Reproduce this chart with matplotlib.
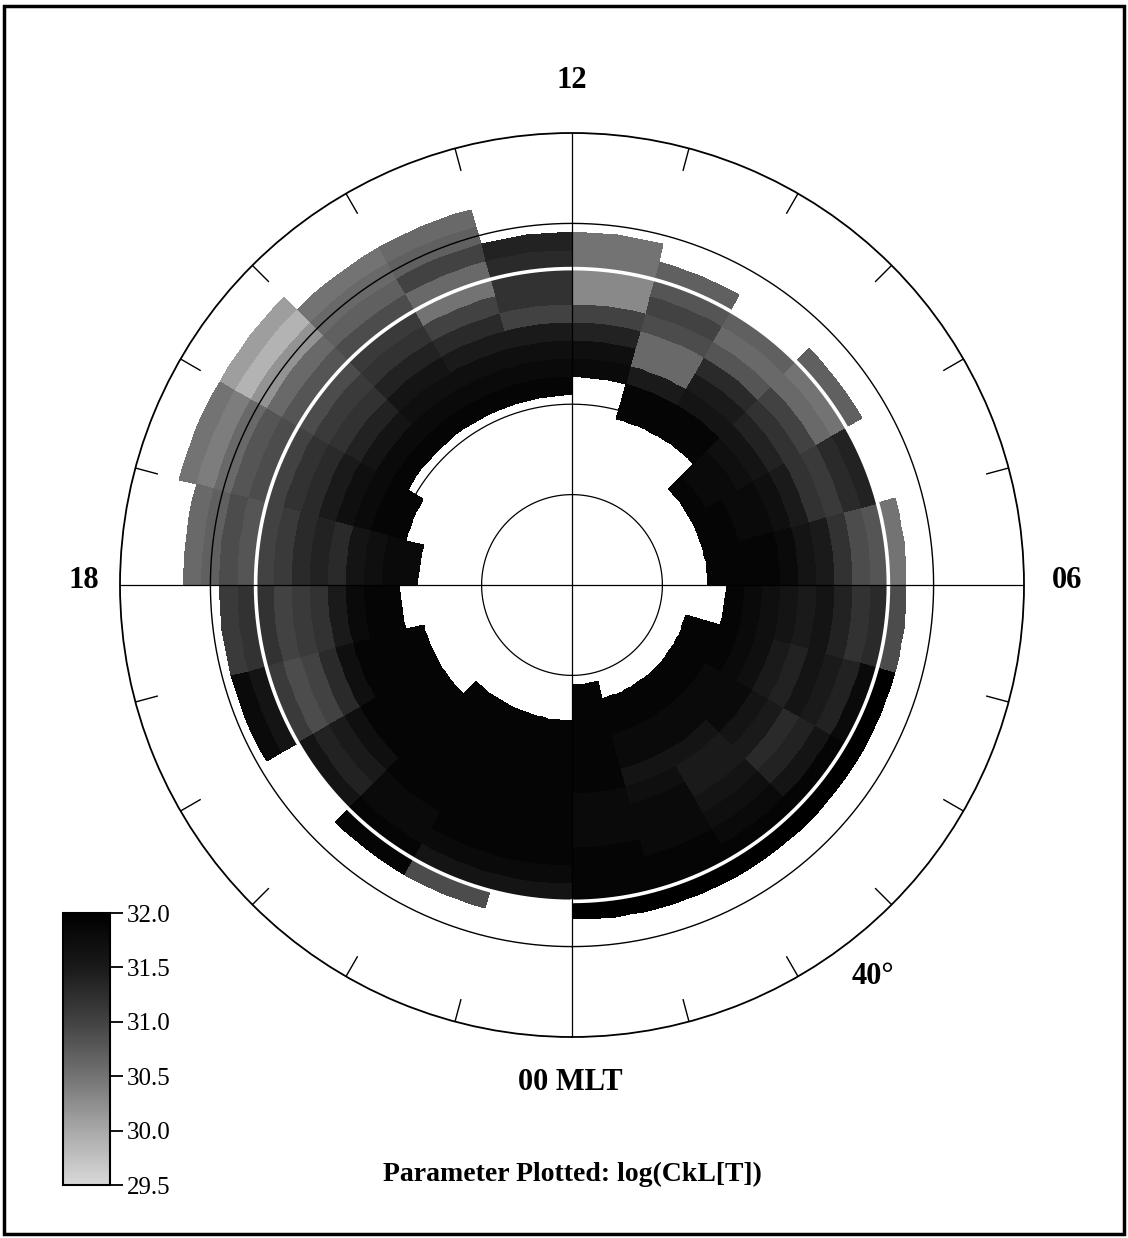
import numpy as np
import matplotlib
matplotlib.use("Agg")
import matplotlib.pyplot as plt
from matplotlib.colors import LinearSegmentedColormap, Normalize
from matplotlib.patches import Rectangle

plt.rcParams['font.family'] = ['Liberation Serif', 'DejaVu Serif']

n = np.nan

# bin edges: 1 h in MLT, 2 deg in magnetic latitude
mlt_edges = np.arange(0, 25, 1)
lat_edges = np.arange(43, 80, 2)

# log(CkL[T]) per MLT hour (rows 00..23), latitude bins 43-45 ... 77-79 (columns)
ckl = np.array([
    [n, n, n, n, n, 32.0, 31.9, 31.9, 31.9, 31.8, 31.8, 31.8, 31.9, 31.9, 31.9, 31.9, 31.9, 31.9],
    [n, n, n, n, n, 32.0, 31.9, 31.9, 31.8, 31.8, 31.8, 31.7, 31.6, 31.8, 31.8, 31.9, 31.9, n],
    [n, n, n, n, n, 32.0, 31.9, 31.8, 31.7, 31.6, 31.5, 31.5, 31.6, 31.8, 31.8, 31.9, 31.9, n],
    [n, n, n, n, n, 32.0, 31.9, 31.6, 31.4, 31.3, 31.5, 31.6, 31.8, 31.8, 31.8, 31.9, 31.9, n],
    [n, n, n, n, n, 32.0, 31.8, 31.4, 31.5, 31.6, 31.4, 31.5, 31.7, 31.8, 31.9, 31.9, 31.9, n],
    [n, n, n, n, n, 30.9, 31.3, 31.2, 31.4, 31.6, 31.5, 31.6, 31.7, 31.8, 31.9, n, n, n],
    [n, n, n, n, n, 30.5, 30.8, 30.9, 31.2, 31.5, 31.6, 31.8, 31.9, 31.9, 31.9, 31.9, n, n],
    [n, n, n, n, n, n, 31.4, 31.3, 31.1, 31.2, 31.5, 31.7, 31.8, 31.8, 31.9, 31.9, n, n],
    [n, n, n, n, n, 30.7, 30.5, 30.6, 31.0, 31.2, 31.4, 31.6, 31.7, 31.8, 31.8, 31.9, n, n],
    [n, n, n, n, n, n, 30.7, 30.6, 30.8, 31.3, 31.5, 31.6, 31.9, 31.9, n, n, n, n],
    [n, n, n, n, n, 30.7, 30.8, 31.0, 30.9, 30.6, 30.6, 31.5, 31.9, 31.9, n, n, n, n],
    [n, n, n, n, 30.5, 30.5, 30.3, 30.3, 31.0, 31.4, 31.7, 31.8, n, n, n, n, n, n],
    [n, n, n, n, 31.4, 31.3, 31.2, 31.2, 31.0, 31.5, 31.7, 31.8, 31.9, n, n, n, n, n],
    [n, n, 30.6, 30.7, 31.0, 30.6, 30.5, 31.0, 31.3, 31.5, 31.7, 31.8, 31.9, n, n, n, n, n],
    [n, n, 30.5, 30.6, 30.7, 30.9, 31.1, 31.2, 31.4, 31.6, 31.7, 31.8, 31.9, n, n, n, n, n],
    [n, 30.1, 29.9, 30.2, 30.6, 30.8, 30.9, 31.1, 31.2, 31.4, 31.6, 31.8, 31.9, n, n, n, n, n],
    [n, 30.5, 30.4, 30.6, 30.8, 30.9, 31.0, 31.2, 31.3, 31.5, 31.7, 31.8, 31.9, 31.9, n, n, n, n],
    [n, n, 30.6, 30.7, 30.9, 30.8, 31.0, 31.1, 31.3, 31.4, 31.3, 31.6, 31.7, 31.8, 31.8, n, n, n],
    [n, n, n, n, 31.1, 31.2, 31.2, 31.0, 31.1, 31.2, 31.5, 31.8, 31.9, 31.9, n, n, n, n],
    [n, n, n, n, 31.8, 31.6, 31.1, 30.9, 31.0, 31.3, 31.7, 31.9, 31.9, 31.9, 31.9, n, n, n],
    [n, n, n, n, n, n, 31.6, 31.4, 31.5, 31.7, 31.9, 31.9, 31.9, 31.9, 31.9, n, n, n],
    [n, n, n, n, n, 31.9, 31.9, 31.8, 31.8, 31.9, 31.9, 31.9, 31.9, 31.9, 31.9, 31.9, n, n],
    [n, n, n, n, n, 30.9, 31.6, 31.8, 31.9, 31.9, 31.9, 31.9, 31.9, 31.9, 31.9, 31.9, n, n],
    [n, n, n, n, n, n, 31.6, 31.8, 31.9, 31.9, 31.9, 31.9, 31.9, 31.9, 31.9, 31.9, n, n],
])

# colour scale (grey level)
cbar_ticks = [29.5, 30.0, 30.5, 31.0, 31.5, 32.0]
cbar_greys = [0.85, 0.66, 0.45, 0.26, 0.10, 0.0]

grid_lats = [60, 70, 80]
hour_labels = {'12': (572, 80), '06': (1067, 581), '18': (84, 581)}

W, H = 1128, 1238
fig = plt.figure(figsize=(W / 100, H / 100), dpi=100)

# polar plot centred at (572, 585) px with 452 px radius (= 40 deg)
cx, cy, R = 572, 585, 452
ax = fig.add_axes([(cx - R) / W, 1 - (cy + R) / H, 2 * R / W, 2 * R / H], projection='polar')
ax.set_theta_zero_location('S')
ax.set_theta_direction(1)
ax.set_ylim(0, 50)
ax.grid(False)
ax.set_xticks([])
ax.set_yticks([])
ax.spines['polar'].set_linewidth(1.3)

cmap = LinearSegmentedColormap.from_list(
    'ckl', [((v - 29.5) / 2.5, (g, g, g)) for v, g in zip(cbar_ticks, cbar_greys)])
norm = Normalize(29.5, 32.0)

# subdivide the hour bins so that the sectors are drawn as arcs
sub = 6
theta = np.deg2rad(np.linspace(0, 24, 24 * sub + 1) * 15)
vals = np.ma.masked_invalid(np.repeat(ckl, sub, axis=0)).T
mesh = ax.pcolormesh(theta, 90 - lat_edges, vals, cmap=cmap, norm=norm,
                     shading='flat', zorder=2, antialiased=False)

circ = np.linspace(0, 2 * np.pi, 721)
for lat in grid_lats:
    ax.plot(circ, np.full_like(circ, 90 - lat), color='k', lw=0.9, zorder=1)
ax.plot(circ, np.full_like(circ, 35), color='white', lw=2.6, zorder=3)
ax.plot(circ, np.full_like(circ, 40), color='k', lw=1.0, zorder=4)

for h in range(24):
    th = np.deg2rad(h * 15)
    if h % 6 == 0:
        ax.plot([th, th], [0, 50], color='k', lw=0.9, zorder=4)
    else:
        ax.plot([th, th], [47.5, 50], color='k', lw=1.0, zorder=4)

bold = dict(fontsize=22, fontweight='bold', ha='center', va='center')
for lab, (x, y) in hour_labels.items():
    fig.text(x / W, 1 - y / H, lab, **bold)
fig.text(570 / W, 1 - 1082 / H, '00 MLT', **bold)
fig.text(873 / W, 1 - 977 / H, '40°', **bold)
fig.text(572 / W, 1 - 1174 / H, 'Parameter Plotted: log(CkL[T])',
         fontsize=20, fontweight='bold', ha='center', va='center')

# colour bar in the lower left corner
cax = fig.add_axes([63 / W, 1 - 1185 / H, 47 / W, 272 / H])
cb = fig.colorbar(mesh, cax=cax, ticks=cbar_ticks)
cb.ax.set_yticklabels([f'{t:.1f}' for t in cbar_ticks])
cb.ax.tick_params(labelsize=18, length=9, width=1.3, pad=3)
cb.outline.set_linewidth(1.5)

# page frame
fig.patches.append(Rectangle((4 / W, 4 / H), 1 - 8 / W, 1 - 10 / H, transform=fig.transFigure,
                             fill=False, ec='k', lw=2.5))

fig.savefig('out.png', dpi=100)
